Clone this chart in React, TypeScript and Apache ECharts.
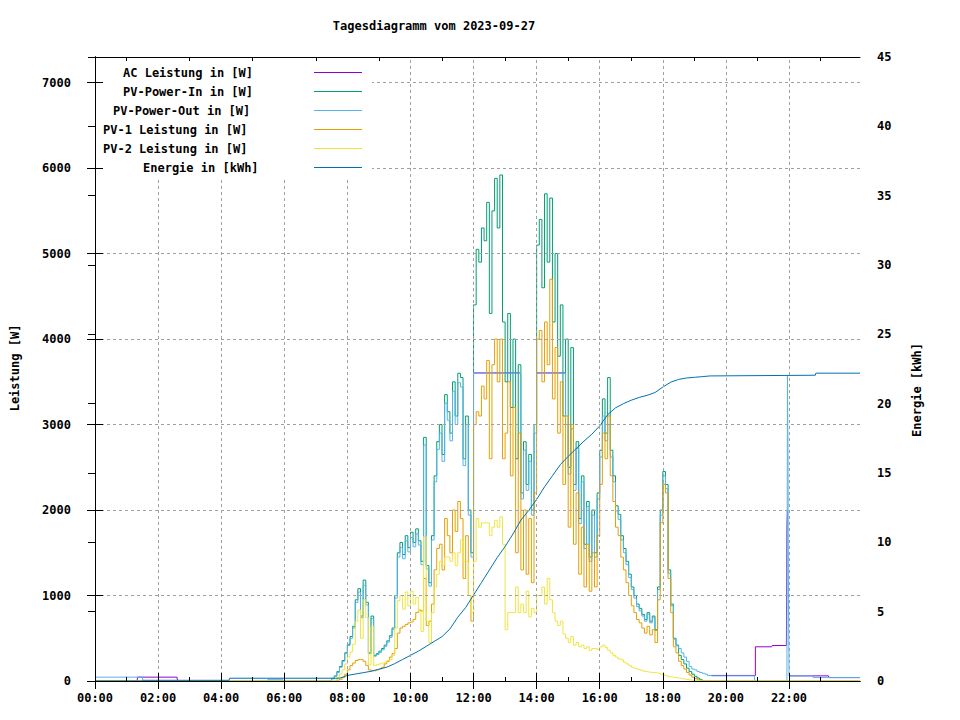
import React, { useEffect, useRef } from "react";
import * as echarts from "echarts";

const TITLE = "Tagesdiagramm vom 2023-09-27";
const Y_LABEL = "Leistung [W]";
const Y2_LABEL = "Energie [kWh]";
const SERIES_NAMES = [
  "AC Leistung in [W]",
  "PV-Power-In in [W]",
  "PV-Power-Out in [W]",
  "PV-1 Leistung in [W]",
  "PV-2 Leistung in [W]",
  "Energie in [kWh]",
];
const COLORS = ["#9400d3", "#009e73", "#56b4e9", "#e69f00", "#f0e442", "#0072b2"];

// axes
const X_MAX_H = 24.25;
const X_MAJOR = [0, 2, 4, 6, 8, 10, 12, 14, 16, 18, 20, 22];
const X_MINOR = [1, 3, 5, 7, 9, 11, 13, 15, 17, 19, 21, 23];
const Y_TICKS = [0, 1000, 2000, 3000, 4000, 5000, 6000, 7000];
const Y_MAX = 7300;
const Y2_TICKS = [0, 5, 10, 15, 20, 25, 30, 35, 40, 45];

// daytime samples: every 5 minutes from 07:30 to 19:30 (one row = one hour)
const DAY_START = "07:30";
const DAY_STEP_MIN = 5;

const PV_IN = [
  30, 60, 110, 170, 240, 330, 430, 520, 640, 950, 1080, 760,
  1180, 920, 330, 760, 300, 320, 350, 380, 420, 470, 530, 620,
  1000, 1500, 1620, 1480, 1700, 1560, 1740, 1620, 1780, 1640, 1400, 2850,
  1350, 1150, 1700, 2400, 2800, 3000, 2650, 3350, 3150, 2900, 3500, 3100,
  3600, 3550, 2600, 3100, 2000, 1500, 4400, 5050, 4900, 5300, 5150, 5600,
  4300, 5500, 5880, 5300, 5920, 4200, 3500, 4300, 3200, 4000, 2600, 3700,
  2200, 2800, 2300, 2650, 2000, 3000, 5100, 5400, 4600, 5700, 4900, 5650,
  4200, 5000, 3800, 4400, 3100, 4000, 2500, 3900, 2300, 2800, 1900, 2400,
  1600, 2100, 1450, 2000, 1500, 2200, 2700, 3300, 2900, 3550, 2700, 2400,
  2050, 1950, 1700, 1550, 1400, 1250, 1100, 1000, 900, 850, 780, 720,
  800, 700, 760, 600, 1100, 2000, 2450, 2300, 1300, 900, 500, 420,
  300, 250, 200, 150, 110, 80, 55, 35, 15, 0, 0, 0,
  0,
];

const PV_OUT = [
  25, 55, 100, 160, 230, 320, 415, 500, 620, 920, 1040, 740,
  1120, 890, 320, 730, 290, 310, 335, 365, 405, 455, 510, 600,
  970, 1450, 1560, 1430, 1640, 1510, 1680, 1570, 1720, 1590, 1360, 2760,
  1310, 1110, 1650, 2330, 2710, 2900, 2570, 3250, 3050, 2810, 3390, 3000,
  3490, 3440, 2520, 3000, 1940, 1450, 3600, 3600, 3600, 3600, 3600, 3600,
  3600, 3600, 3600, 3600, 3600, 3600, 3600, 3600, 3600, 3600, 3600, 3600,
  2130, 2700, 2230, 2570, 1940, 2900, 3600, 3600, 3600, 3600, 3600, 3600,
  3600, 3600, 3600, 3600, 3600, 3000, 2420, 2950, 2230, 2720, 1840, 2330,
  1550, 2040, 1400, 1940, 1450, 2130, 2620, 3100, 2810, 3000, 2620, 2330,
  1990, 1890, 1650, 1500, 1360, 1210, 1070, 970, 870, 820, 760, 700,
  780, 680, 740, 590, 1070, 1940, 2400, 2250, 1260, 880, 490, 410,
  380, 330, 280, 230, 170, 140, 130, 110, 100, 90, 80, 65,
  60,
];

const PV1 = [
  0, 0, 10, 20, 40, 80, 130, 180, 210, 240, 250, 250,
  230, 180, 130, 120, 120, 130, 140, 160, 200, 230, 280, 320,
  380, 560, 620, 640, 660, 680, 690, 720, 800, 830, 820, 1200,
  650, 700, 900, 1300, 1550, 1600, 1300, 1900, 1700, 1500, 2000, 1750,
  2100, 1900, 1200, 1700, 1000, 700, 3000, 3150, 3100, 3450, 3300, 3750,
  2600, 3700, 4000, 3500, 4000, 2600, 2900, 3500, 2400, 3200, 1500, 2900,
  1300, 2000, 1250, 1900, 1150, 2200, 4000, 4100, 3500, 4200, 3700, 4700,
  3300, 3900, 2900, 3500, 2300, 3100, 1800, 3000, 1600, 2200, 1250, 1800,
  1100, 1600, 1050, 1500, 1100, 1700, 2300, 2900, 2600, 3100, 2400, 2100,
  1800, 1700, 1450, 1300, 1150, 1000, 880, 800, 720, 680, 620, 560,
  640, 540, 600, 450, 950, 1850, 2300, 2200, 1200, 800, 400, 330,
  230, 180, 140, 100, 70, 45, 30, 15, 5, 0, 0, 0,
  0,
];

const PV2 = [
  0, 10, 40, 80, 130, 200, 280, 340, 430, 700, 830, 500,
  950, 740, 190, 640, 180, 190, 200, 210, 220, 240, 250, 300,
  620, 940, 1000, 840, 1040, 880, 1050, 900, 980, 810, 580, 1690,
  700, 450, 800, 1100, 1250, 1400, 1350, 1450, 1450, 1400, 1500, 1350,
  1500, 1650, 1400, 1400, 1000, 800, 1400, 1900, 1800, 1850, 1850, 1850,
  1700, 1800, 1880, 1800, 1920, 1600, 600, 800, 800, 800, 1100, 800,
  900, 800, 1050, 750, 850, 800, 1000, 1000, 1100, 900, 1200, 950,
  800, 700, 650, 700, 550, 500, 450, 520, 420, 450, 400, 420,
  380, 400, 360, 380, 380, 370, 400, 420, 390, 360, 330, 300,
  280, 260, 250, 220, 200, 180, 160, 150, 140, 130, 120, 110,
  105, 100, 100, 95, 90, 80, 70, 60, 50, 45, 40, 35,
  30, 25, 20, 15, 10, 8, 5, 3, 0, 0, 0, 0,
  0,
];

// night-time segments [time, value]
const IN_BEFORE = [["00:00", 0], ["07:25", 0]];
const IN_AFTER = [["19:35", 0], ["24:15", 0]];
const OUT_BEFORE = [["00:00", 45], ["01:30", 45], ["01:31", 5], ["05:28", 5], ["05:29", 20], ["05:57", 20], ["05:58", 5], ["07:25", 5]];
const OUT_AFTER = [
  ["19:35", 60], ["20:54", 60], ["20:55", 0], ["21:56", 0], ["21:57", 3580], ["21:58", 2700],
  ["21:59", 950], ["22:00", 60], ["22:45", 55], ["22:46", 40], ["24:15", 40],
];
const PV1_BEFORE = [["00:00", 0], ["07:25", 0]];
const PV1_AFTER = [["19:35", 0], ["24:15", 0]];
const PV2_BEFORE = [["00:00", 0], ["07:25", 0]];
const PV2_AFTER = [["19:35", 0], ["24:15", 0]];

// AC output where it is visible (null = hidden under PV-Power-Out)
const AC = [
  ["00:00", 0], ["01:20", 0], ["01:21", 45], ["02:36", 45], ["02:37", 0], ["07:30", 0], ["07:31", null],
  ["12:00", 3604], ["13:28", 3604], ["13:29", null],
  ["14:00", 3604], ["14:55", 3604], ["14:56", null],
  ["19:32", 65], ["20:54", 65], ["20:56", 400], ["21:27", 400], ["21:28", 415], ["21:55", 415],
  ["21:56", 1800], ["21:57", 2000], ["21:58", null],
  ["22:00", 60], ["23:15", 60], ["23:16", 40], ["24:15", 40],
];

// cumulative energy [time, kWh]
const ENERGY = [
  ["00:00", 0], ["01:30", 0], ["01:31", 0.05], ["04:15", 0.05], ["04:16", 0.2], ["07:45", 0.2],
  ["08:00", 0.4], ["08:15", 0.5], ["08:30", 0.6], ["08:45", 0.7], ["09:00", 0.85], ["09:15", 1.0],
  ["09:30", 1.25], ["09:45", 1.55], ["10:00", 1.85], ["10:15", 2.15], ["10:30", 2.5], ["10:45", 2.85],
  ["11:00", 3.2], ["11:15", 3.75], ["11:30", 4.6], ["11:45", 5.3], ["12:00", 6.2], ["12:15", 7.1],
  ["12:30", 8.0], ["12:45", 8.9], ["13:00", 9.7], ["13:15", 10.6], ["13:30", 11.6], ["13:45", 12.3],
  ["14:00", 13.1], ["14:15", 14.0], ["14:30", 14.8], ["14:45", 15.6], ["15:00", 16.2], ["15:15", 16.75],
  ["15:30", 17.3], ["15:45", 17.8], ["16:00", 18.4], ["16:15", 19.2], ["16:30", 19.7], ["16:45", 20.0],
  ["17:00", 20.25], ["17:15", 20.45], ["17:30", 20.6], ["17:45", 20.8], ["18:00", 21.2], ["18:15", 21.55],
  ["18:30", 21.75], ["18:45", 21.85], ["19:00", 21.9], ["19:15", 21.95], ["19:30", 22.0], ["22:50", 22.05],
  ["22:51", 22.2], ["24:15", 22.2],
];

const toH = (t: string) => {
  const [h, m] = t.split(":").map(Number);
  return h + m / 60;
};
const pairs = (arr: any[]) => arr.map(([t, v]) => [toH(t), v]);
const daySeries = (vals: number[], before: any[], after: any[]) => [
  ...pairs(before),
  ...vals.map((v, i) => [toH(DAY_START) + (i * DAY_STEP_MIN) / 60, v]),
  ...pairs(after),
];

const FONT = '"DejaVu Sans Mono", monospace';
const LABEL = { fontFamily: FONT, fontWeight: "bold" as const, fontSize: 12, color: "#000" };

export default function App() {
  const ref = useRef<HTMLDivElement>(null);
  useEffect(() => {
    if (!ref.current) return;
    const chart = echarts.init(ref.current, undefined, { renderer: "svg" });
    const black = { show: true, lineStyle: { color: "#000", width: 1 } };
    const xBase = {
      type: "value",
      min: 0,
      max: X_MAX_H,
      splitLine: { show: false },
      axisLine: black,
      z: 20,
    };
    const xAxes = [
      {
        ...xBase,
        position: "bottom",
        axisTick: { show: true, inside: true, length: 8, customValues: X_MAJOR, lineStyle: { color: "#000" } },
        axisLabel: {
          ...LABEL,
          margin: 11,
          customValues: X_MAJOR,
          formatter: (v: number) => `${String(Math.round(v)).padStart(2, "0")}:00`,
        },
      },
      {
        ...xBase,
        position: "bottom",
        axisTick: { show: true, inside: true, length: 4, customValues: X_MINOR, lineStyle: { color: "#000" } },
        axisLabel: { show: false },
      },
      {
        ...xBase,
        position: "top",
        axisTick: { show: true, inside: true, length: 8, customValues: X_MAJOR, lineStyle: { color: "#000" } },
        axisLabel: { show: false },
      },
      {
        ...xBase,
        position: "top",
        axisTick: { show: true, inside: true, length: 4, customValues: X_MINOR, lineStyle: { color: "#000" } },
        axisLabel: { show: false },
      },
    ];
    const yAxes = [
      {
        type: "value",
        position: "left",
        min: 0,
        max: Y_MAX,
        splitLine: { show: false },
        axisLine: black,
        axisTick: { show: true, inside: true, length: 8, customValues: Y_TICKS, lineStyle: { color: "#000" } },
        axisLabel: { ...LABEL, margin: 24, customValues: Y_TICKS, formatter: (v: number) => String(v) },
        z: 20,
      },
      {
        type: "value",
        position: "right",
        min: 0,
        max: 45,
        interval: 5,
        splitLine: { show: false },
        axisLine: black,
        axisTick: { show: true, inside: true, length: 7, customValues: Y2_TICKS, lineStyle: { color: "#000" } },
        axisLabel: { ...LABEL, margin: 17, customValues: Y2_TICKS, formatter: (v: number) => String(v) },
        z: 20,
      },
      {
        type: "value",
        position: "right",
        min: 0,
        max: Y_MAX,
        splitLine: { show: false },
        axisLine: black,
        axisTick: { show: true, inside: true, length: 8, customValues: Y_TICKS, lineStyle: { color: "#000" } },
        axisLabel: { show: false },
        z: 20,
      },
    ];

    const lineSeries = (idx: number, data: any[], yAxisIndex = 0, step: any = "end") => ({
      type: "line",
      name: SERIES_NAMES[idx],
      data,
      xAxisIndex: 0,
      yAxisIndex,
      step,
      symbol: "none",
      showSymbol: false,
      connectNulls: false,
      lineStyle: { width: 1, color: COLORS[idx] },
      itemStyle: { color: COLORS[idx] },
      z: 3,
      silent: true,
    });

    const gridSeries = {
      type: "line",
      data: [],
      xAxisIndex: 0,
      yAxisIndex: 0,
      z: 1,
      silent: true,
      markLine: {
        silent: true,
        symbol: ["none", "none"],
        label: { show: false },
        animation: false,
        lineStyle: { color: "#a0a0a0", type: [3, 3], width: 1 },
        data: [
          ...X_MAJOR.filter((h) => h > 0).map((h) => ({ xAxis: h })),
          ...Y_TICKS.filter((v) => v > 0).map((v) => ({ yAxis: v })),
        ],
      },
    };

    const legendStarts = [123, 123, 113, 103, 103, 143];
    const legendY0 = 72.5;
    const legendDy = 19;
    const legendEls: any[] = [];
    SERIES_NAMES.forEach((name, i) => {
      const y = legendY0 + i * legendDy;
      legendEls.push({
        type: "text",
        x: legendStarts[i],
        y,
        z: 11,
        style: {
          text: name,
          font: `bold 12px ${FONT}`,
          fill: "#000",
          textAlign: "left",
          textVerticalAlign: "middle",
          align: "left",
          verticalAlign: "middle",
        },
      });
      legendEls.push({
        type: "line",
        z: 11,
        shape: { x1: 314, y1: y, x2: 362, y2: y },
        style: { stroke: COLORS[i], lineWidth: 1 },
      });
    });

    const textStyle = (text: string) => ({
      text,
      font: `bold 12px ${FONT}`,
      fill: "#000",
      textAlign: "center",
      textVerticalAlign: "middle",
      align: "center",
      verticalAlign: "middle",
    });

    chart.setOption({
      animation: false,
      backgroundColor: "#fff",
      grid: { left: 95, right: 100, top: 57, bottom: 39, containLabel: false },
      xAxis: xAxes,
      yAxis: yAxes,
      series: [
        gridSeries,
        lineSeries(0, pairs(AC)),
        lineSeries(1, daySeries(PV_IN, IN_BEFORE, IN_AFTER)),
        lineSeries(2, daySeries(PV_OUT, OUT_BEFORE, OUT_AFTER)),
        lineSeries(3, daySeries(PV1, PV1_BEFORE, PV1_AFTER)),
        lineSeries(4, daySeries(PV2, PV2_BEFORE, PV2_AFTER)),
        lineSeries(5, pairs(ENERGY), 1, false),
      ],
      graphic: [
        { type: "rect", z: 10, shape: { x: 96, y: 58, width: 276, height: 120 }, style: { fill: "#fff" } },
        ...legendEls,
        { type: "text", x: 434, y: 26, z: 11, style: textStyle(TITLE) },
        { type: "text", x: 15, y: 368, z: 11, rotation: Math.PI / 2, style: textStyle(Y_LABEL) },
        { type: "text", x: 917, y: 390, z: 11, rotation: Math.PI / 2, style: textStyle(Y2_LABEL) },
      ],
    });
    return () => chart.dispose();
  }, []);
  return (
    <div
      ref={ref}
      style={{ position: "fixed", left: 0, top: 0, width: 960, height: 720, background: "#fff" }}
    />
  );
}
